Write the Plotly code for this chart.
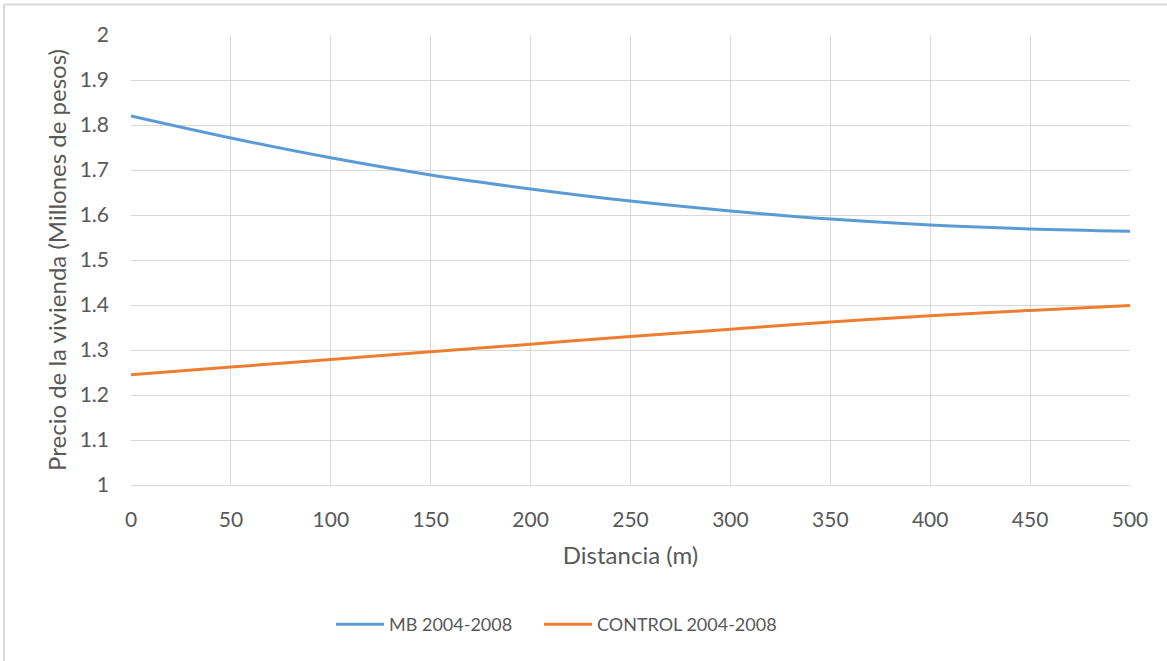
import plotly.graph_objects as go

distance = [0, 50, 100, 150, 200, 250, 300, 350, 400, 450, 500]
mb_2004_2008 = [1.820, 1.771, 1.727, 1.689, 1.658, 1.631, 1.609, 1.591, 1.578, 1.569, 1.564]
control_2004_2008 = [1.245, 1.262, 1.279, 1.296, 1.313, 1.330, 1.346, 1.362, 1.376, 1.388, 1.399]
y_ticks = [1, 1.1, 1.2, 1.3, 1.4, 1.5, 1.6, 1.7, 1.8, 1.9, 2]
y_tick_labels = ["1", "1.1", "1.2", "1.3", "1.4", "1.5", "1.6", "1.7", "1.8", "1.9", "2"]
x_ticks = [0, 50, 100, 150, 200, 250, 300, 350, 400, 450, 500]

FONT = "Lato, Open Sans, sans-serif"
TXT = "#595959"
GRID = "#d9d9d9"

fig = go.Figure()
fig.add_trace(go.Scatter(x=distance, y=mb_2004_2008, mode="lines", name="MB 2004-2008",
                         line=dict(color="#5b9bd5", width=3, shape="spline"), legend="legend"))
fig.add_trace(go.Scatter(x=distance, y=control_2004_2008, mode="lines", name="CONTROL 2004-2008",
                         line=dict(color="#ed7d31", width=3, shape="spline"), legend="legend2"))

leg_common = dict(orientation="h", y=-0.31, xanchor="left", yanchor="middle", itemwidth=48,
                  font=dict(size=18, color=TXT), bgcolor="rgba(0,0,0,0)")

fig.update_layout(
    width=1167, height=661,
    margin=dict(l=131, r=37, t=35, b=176),
    paper_bgcolor="white", plot_bgcolor="white",
    font=dict(family=FONT, color=TXT, size=21),
    showlegend=True,
    legend=dict(x=0.2002, **leg_common),
    legend2=dict(x=0.4084, **leg_common),
    xaxis=dict(range=[0, 500], tickvals=x_ticks, showgrid=True, gridcolor=GRID, gridwidth=1,
               zeroline=False, showline=True, linecolor=GRID, linewidth=1,
               ticks="", ticklabelstandoff=16, tickfont=dict(size=21),
               title=dict(text="Distancia (m)", font=dict(size=24, color=TXT), standoff=16)),
    yaxis=dict(range=[1, 2], tickvals=y_ticks, ticktext=y_tick_labels, showgrid=True,
               gridcolor=GRID, gridwidth=1, zeroline=False, showline=False,
               ticks="", ticklabelstandoff=21, tickfont=dict(size=21),
               title=dict(text="Precio de la vivienda (Millones de pesos)", font=dict(size=24, color=TXT),
                          standoff=6)),
)

# chart border (partially visible in reference)
fig.add_shape(type="line", xref="paper", yref="paper", x0=-0.1271, x1=1.05, y0=1.0678, y1=1.0678,
              line=dict(color=GRID, width=2))
fig.add_shape(type="line", xref="paper", yref="paper", x0=-0.1271, x1=-0.1271, y0=1.0678, y1=-0.42,
              line=dict(color=GRID, width=2))

fig.write_html("out.html")
